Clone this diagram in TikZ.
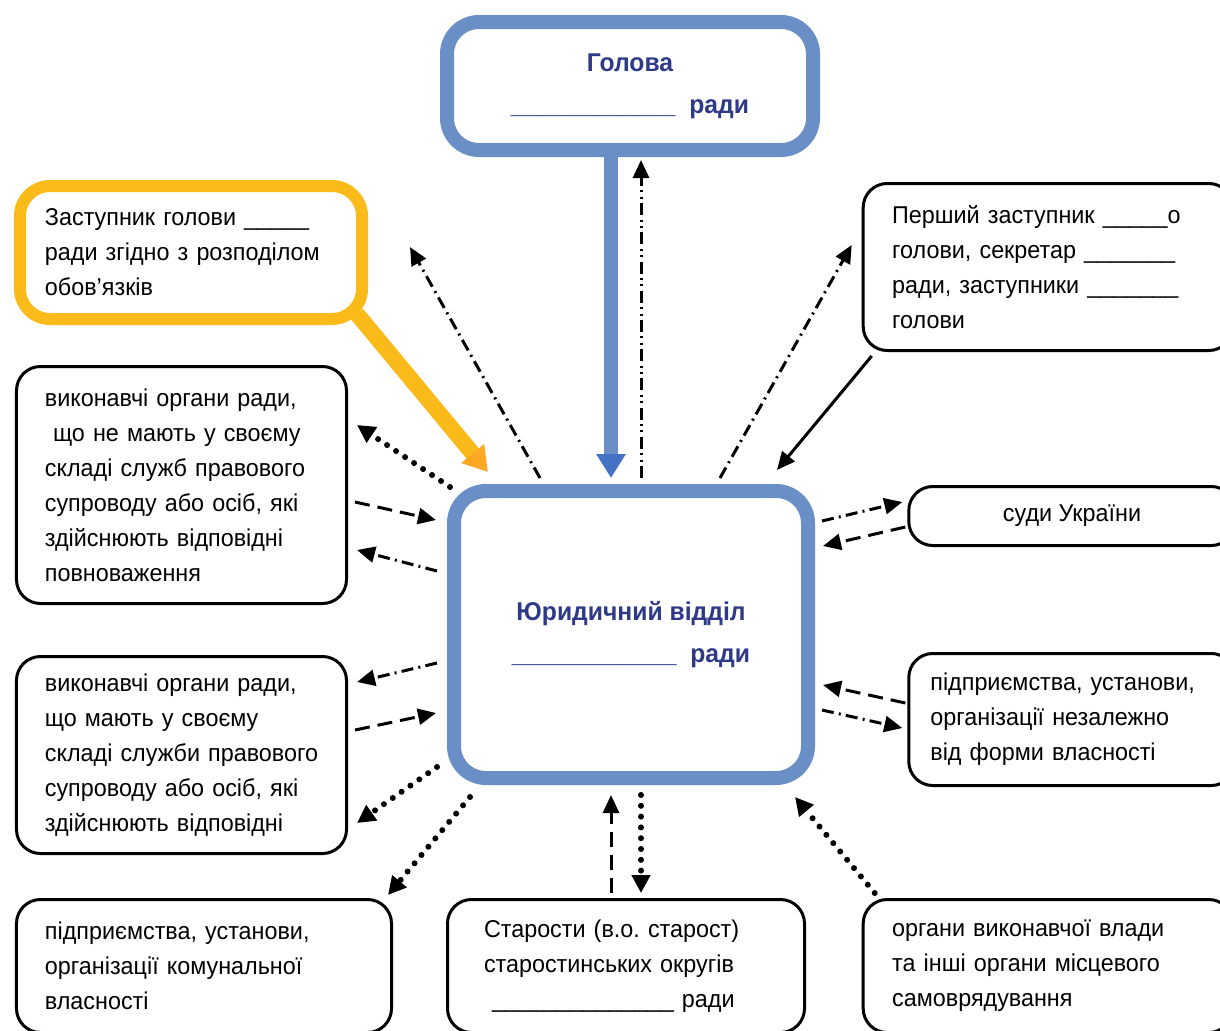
\documentclass[tikz,border=0pt]{standalone}
\usepackage{fontspec}
\setmainfont[FakeStretch=0.96]{Liberation Sans}
\usetikzlibrary{arrows.meta,calc}

\definecolor{frameblue}{RGB}{106,143,199}
\definecolor{tipblue}{RGB}{68,114,196}
\definecolor{frameorange}{RGB}{250,186,26}
\definecolor{tiporange}{RGB}{251,168,37}
\definecolor{navy}{RGB}{46,58,135}

\newcommand\bodyfont{\fontsize{17.3}{24.9}\selectfont}
\newcommand\titlefont{\fontsize{18.3}{30}\selectfont\bfseries\color{navy}}
\frenchspacing

\begin{document}
\begin{tikzpicture}[x=0.25mm,y=-0.25mm,
  box/.style={draw, line width=0.75mm, rounded corners=6mm, align=left,
    font=\bodyfont, inner ysep=0pt},
  bluebox/.style={draw=frameblue, line width=3.5mm, rounded corners=8mm,
    align=center, font=\titlefont},
  link/.style={line width=0.75mm, -{Triangle[length=4.5mm,width=4mm]}},
  dashedlink/.style={link, dash pattern=on 3.75mm off 2mm},
  dashdot/.style={link, dash pattern=on 3mm off 1.3mm on 0.5mm off 1.3mm},
  dashdotdot/.style={link, dash pattern=on 3mm off 1.1mm on 0.5mm off 1.1mm on 0.5mm off 1.1mm},
  dottedlink/.style={link, line width=1.5mm, line cap=round, dash pattern=on 0mm off 2.7mm,
    -{Triangle[length=4.5mm,width=4.5mm]}}]
\useasboundingbox (0,0) rectangle (1220,1030);
\clip (0,0) rectangle (1220,1030);

% main boxes
\node[bluebox, minimum width=91.5mm, minimum height=32mm] (head) at (630,86)
  {Голова\\\_\_\_\_\_\_\_\_\_\_\_\_ \ ради};
\node[bluebox, minimum width=88.5mm, minimum height=71.75mm] (jur) at (631,634.5)
  {Юридичний відділ\\\_\_\_\_\_\_\_\_\_\_\_\_ \ ради};
\node[box, draw=frameorange, line width=3mm, rounded corners=7.5mm,
  minimum width=85.5mm, minimum height=33.25mm, text width=73mm] (zast) at (191,252.5)
  {Заступник голови \_\_\_\_\_\\ради згідно з розподілом\\обов’язків};

% left column
\node[box, minimum width=82.5mm, minimum height=59.25mm, text width=68.3mm] (vyk1) at (181.5,485)
  {виконавчі органи ради,\\\ що не мають у своєму\\складі служб правового\\супроводу або осіб, які\\здійснюють відповідні\\повноваження};
\node[box, minimum width=82.5mm, minimum height=49.25mm, text width=68.3mm] (vyk2) at (181.5,755)
  {виконавчі органи ради,\\що мають у своєму\\складі служби правового\\супроводу або осіб, які\\здійснюють відповідні};

% right column
\node[box, minimum width=92.4mm, minimum height=41.75mm, text width=77.9mm] (persh) at (1048,267)
  {Перший заступник \_\_\_\_\_о\\голови, секретар \_\_\_\_\_\_\_\\ради, заступники \_\_\_\_\_\_\_\\голови};
\node[box, align=center, minimum width=81.6mm, minimum height=14.75mm] (sudy) at (1072,516)
  {суди України};
\node[box, minimum width=81.6mm, minimum height=33mm, text width=70.8mm] (pidpr) at (1072,719.5)
  {підприємства, установи,\\організації незалежно\\від форми власності};

% bottom row
\node[box, minimum width=93.75mm, minimum height=33.25mm, text width=79.5mm] (komun) at (204,966)
  {підприємства, установи,\\організації комунальної\\власності};
\node[box, minimum width=89.25mm, minimum height=33.25mm, text width=71mm] (star) at (626,966)
  {Старости (в.о. старост)\\старостинських округів\\\ \_\_\_\_\_\_\_\_\_\_\_\_\_\_ ради};
\node[box, minimum width=92.4mm, minimum height=33.25mm, text width=77.9mm] (organy) at (1048,966)
  {органи виконавчої влади\\та інші органи місцевого\\самоврядування};

\coordinate (zfree) at (410,247);

% connectors
\draw[frameblue, line width=3.5mm, -{Triangle[length=6mm,width=7mm,color=tipblue]}]
  ($(head.south)+(-19,0)$) -- ($(jur.north)+(-20,-6)$);
\draw[dashdotdot] ($(jur.north)+(10,-6)$) -- ($(head.south)+(11,3)$);
\draw[frameorange, line width=4mm, -{Triangle[length=6mm,width=7mm,color=tiporange]}]
  ($(zast.south east)+(-11,-11)$) -- ($(jur.north west)+(41,-12)$);
\draw[dashdot] ($(jur.north)+(-91,-6)$) -- (zfree);
\draw[dashdot] ($(jur.north)+(89,-6)$) -- ($(persh.west)+(-10,-22)$);
\draw[link] ($(persh.south west)+(10,4)$) -- ($(jur.north)+(146,-14)$);

\draw[dottedlink] ($(jur.north west)+(3,3)$) -- ($(vyk1.east)+(9,-60)$);
\draw[dashedlink] ($(vyk1.east)+(7,17)$) -- ($(jur.west)+(-11,-114.5)$);
\draw[dashdot] ($(jur.west)+(-10,-63.5)$) -- ($(vyk1.east)+(9,65)$);
\draw[dashdot] ($(jur.west)+(-10,28.5)$) -- ($(vyk2.east)+(9,-73)$);
\draw[dashedlink] ($(vyk2.east)+(7,-25)$) -- ($(jur.west)+(-11,78.5)$);
\draw[dottedlink] ($(jur.west)+(-10,132.5)$) -- ($(vyk2.east)+(9,68)$);

\draw[dottedlink] ($(jur.south west)+(23,12)$) -- ($(komun.north east)+(-5,-3)$);
\draw[dashedlink] ($(star.north)+(-15,-5)$) -- ($(jur.south)+(-20,10)$);
\draw[dottedlink] ($(jur.south)+(10,10)$) -- ($(star.north)+(15,-5)$);
\draw[dottedlink] ($(organy.north west)+(13,-5)$) -- ($(jur.south east)+(-20,12)$);

\draw[dashdot] ($(jur.north east)+(7,37)$) -- ($(sudy.west)+(-5,-14)$);
\draw[dashedlink] ($(sudy.west)+(-2,11)$) -- ($(jur.north east)+(8,62)$);
\draw[dashedlink] ($(pidpr.west)+(-2,-16.5)$) -- ($(jur.east)+(8,50.5)$);
\draw[dashdot] ($(jur.east)+(7,75.5)$) -- ($(pidpr.west)+(-5,8.5)$);
\end{tikzpicture}
\end{document}
